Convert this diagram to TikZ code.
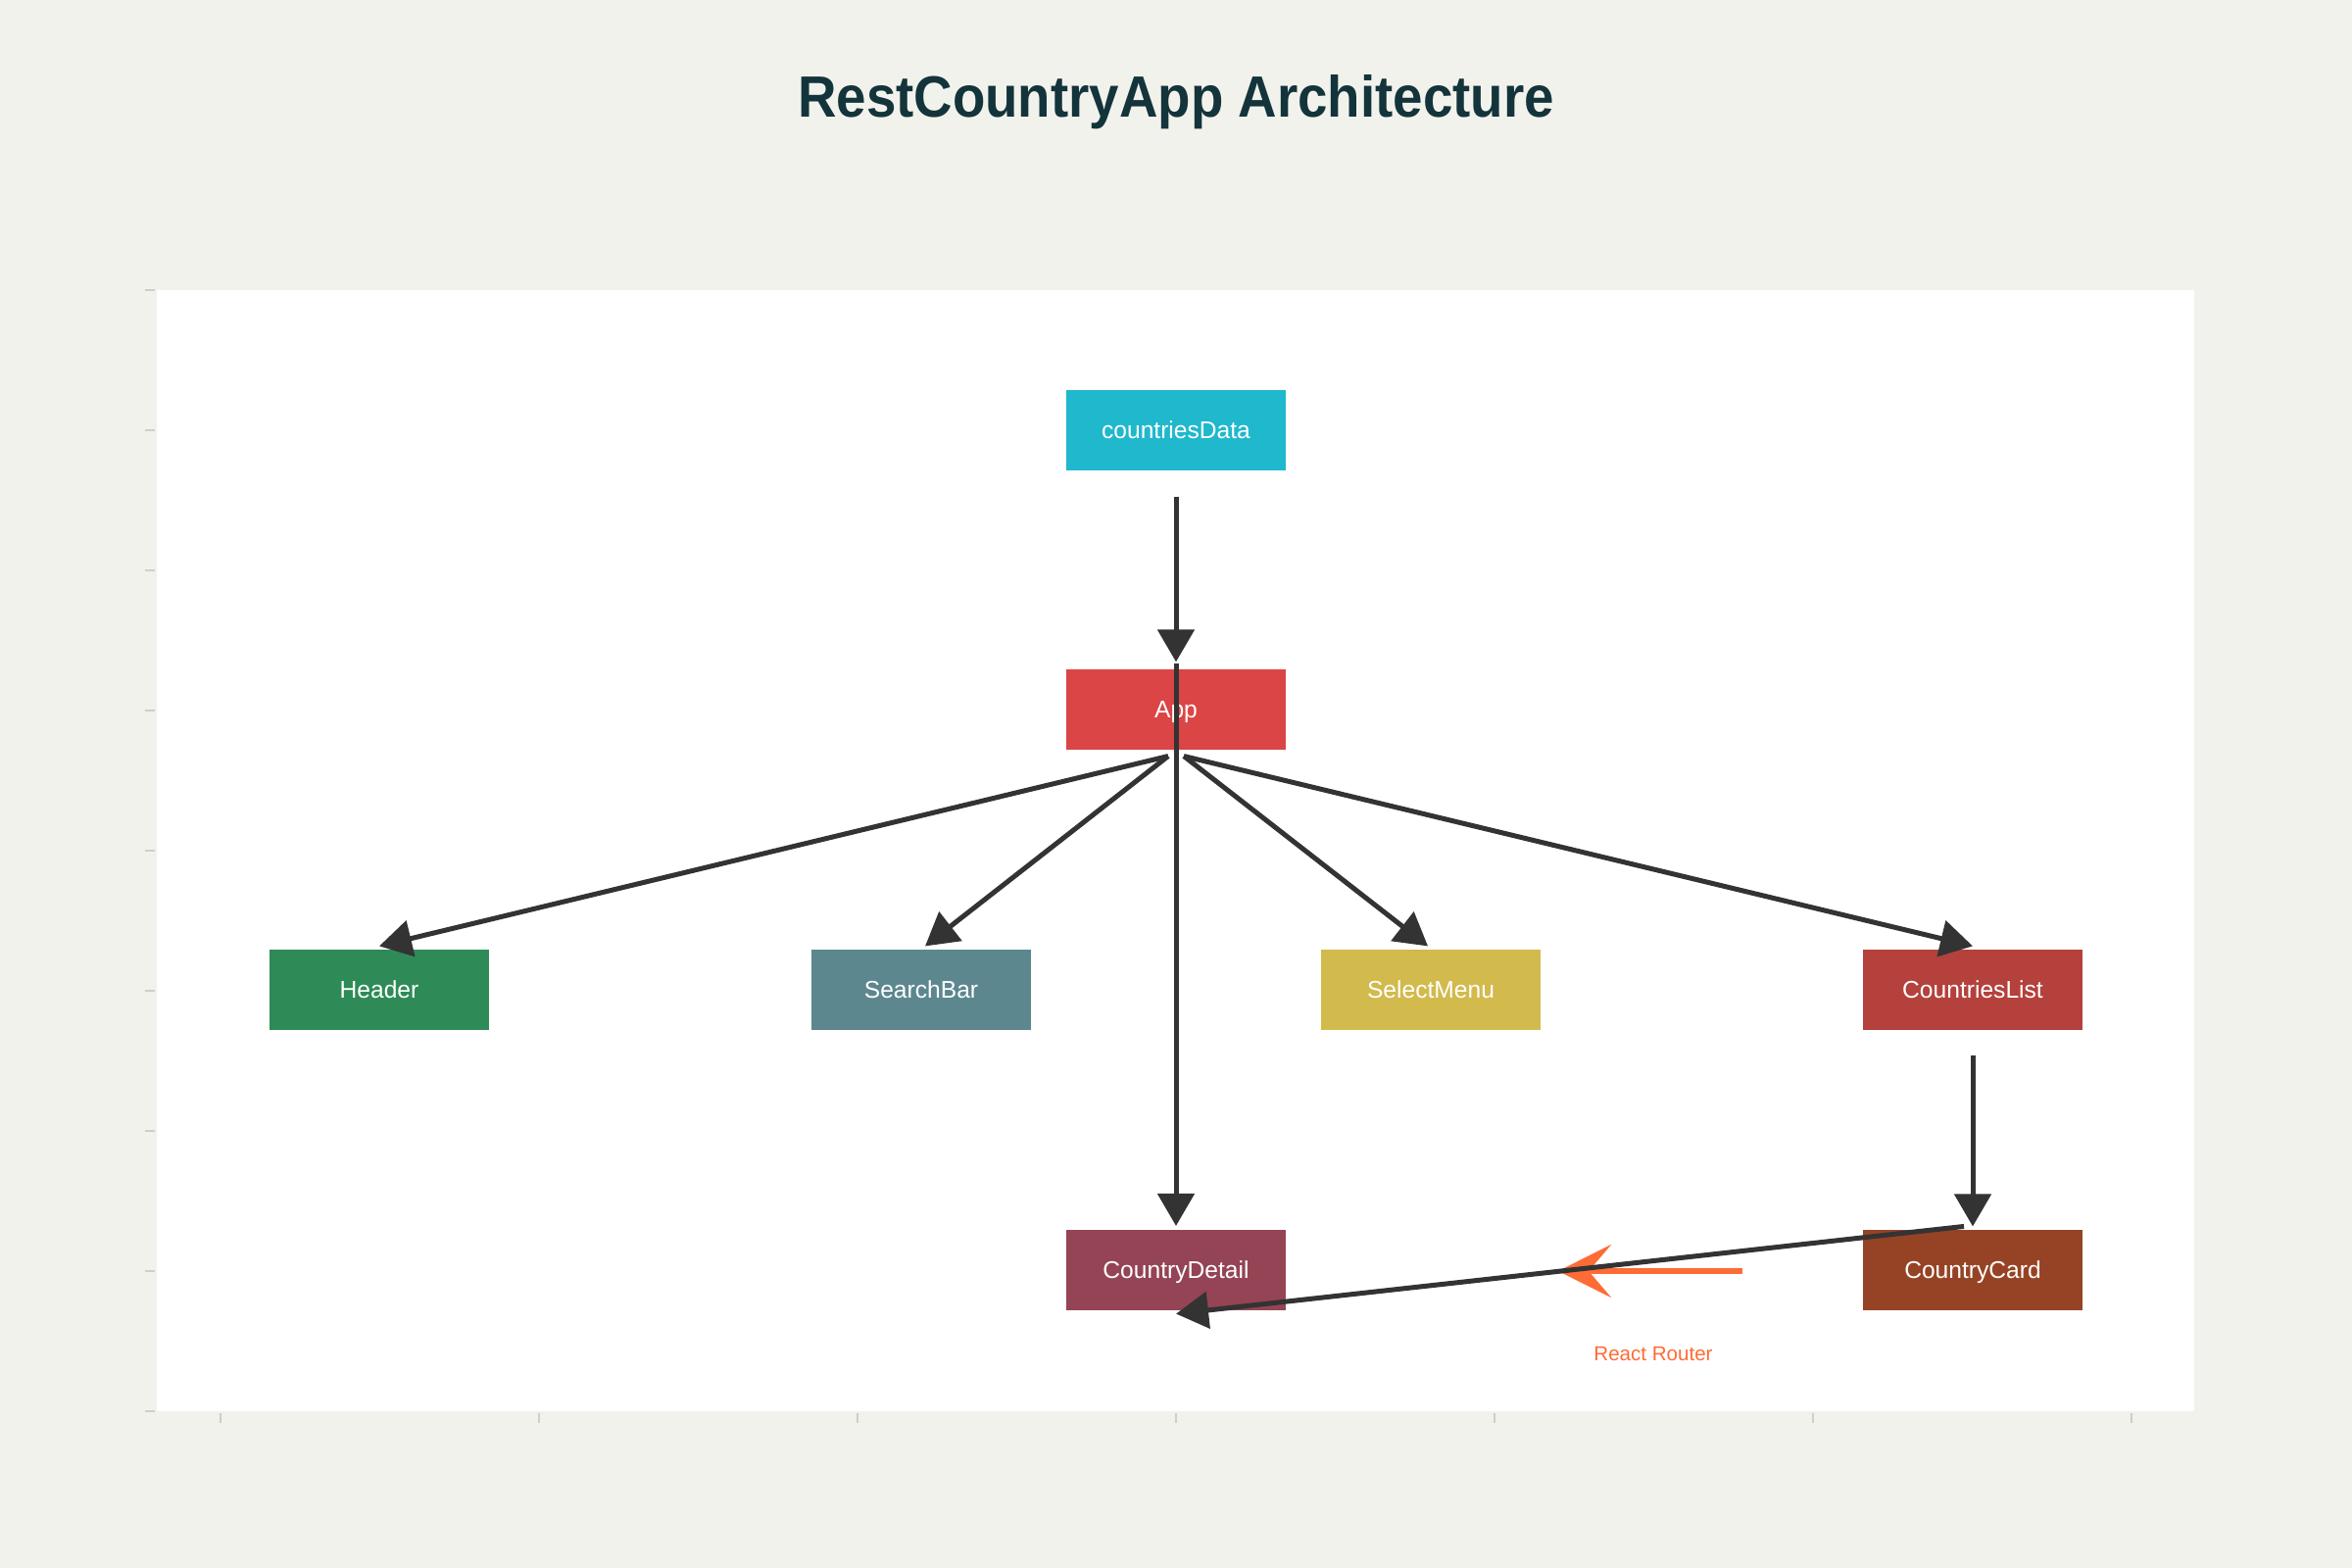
\documentclass[tikz,border=0pt]{standalone}
\usepackage{fontspec}
\setmainfont{Liberation Sans}
\newfontfamily\titlefont[FakeStretch=0.92]{Liberation Sans}
\usetikzlibrary{arrows.meta}
\definecolor{bgc}{HTML}{F2F2EC}
\definecolor{tickc}{HTML}{CFCEC8}
\definecolor{titlec}{HTML}{13343B}
\definecolor{arrc}{HTML}{333333}
\definecolor{orng}{HTML}{FF6B35}
\definecolor{cData}{HTML}{1FB8CD}
\definecolor{cApp}{HTML}{DB4545}
\definecolor{cHeader}{HTML}{2E8B57}
\definecolor{cSearch}{HTML}{5D878F}
\definecolor{cSelect}{HTML}{D2BA4C}
\definecolor{cList}{HTML}{B4413C}
\definecolor{cDetail}{HTML}{944454}
\definecolor{cCard}{HTML}{964325}
\tikzset{
  comp/.style={rectangle, inner sep=0pt, minimum width=2.237cm, minimum height=0.817cm,
    text height=5.1pt, text depth=0pt,
    text=white, font=\fontsize{7pt}{8pt}\selectfont},
  link/.style={draw=arrc, line width=0.05cm, -{Triangle[length=0.33cm, width=0.37cm]}},
  route/.style={draw=orng, line width=0.06cm, -{Stealth[length=0.54cm, width=0.54cm, inset=0.23cm]}},
  tickline/.style={draw=tickc, line width=0.025cm}
}
\begin{document}
\begin{tikzpicture}[x=0.01cm, y=-0.01cm]
\fill[bgc] (0,0) rectangle (2400,1600);
\useasboundingbox (0,0) rectangle (2400,1600);
\fill[white] (160,296) rectangle (2239,1440);
\foreach \k in {0,...,8} \draw[tickline] (148,296+143*\k) -- (158,296+143*\k);
\foreach \k in {0,...,6} \draw[tickline] (225+325*\k,1442) -- (225+325*\k,1452);

\node[font=\titlefont\fontsize{16.9pt}{20pt}\selectfont\bfseries, text=titlec, text height=12.2pt, text depth=0pt] (title) at (1200,98) {RestCountryApp Architecture};

\node[comp, fill=cData] (cd) at (1200,439) {countriesData};
\node[comp, fill=cApp] (app) at (1200,724) {App};
\node[comp, fill=cHeader] (hdr) at (387,1010) {Header};
\node[comp, fill=cSearch] (sb) at (940,1010) {SearchBar};
\node[comp, fill=cSelect] (sm) at (1460,1010) {SelectMenu};
\node[comp, fill=cList] (cl) at (2013,1010) {CountriesList};
\node[comp, fill=cDetail] (cdet) at (1200,1296) {CountryDetail};
\node[comp, fill=cCard] (cc) at (2013,1296) {CountryCard};

\coordinate (rr0) at (1778,1297);
\coordinate (rr1) at (1590,1297);
\draw[route] (rr0) -- (rr1);
\node[text=orng, font=\fontsize{5.85pt}{7pt}\selectfont] (rlabel) at (1687,1382) {React Router};

\draw[link] ([yshift=-0.26cm]cd.south) -- ([yshift=0.07cm]app.north);
\draw[link] ([shift={(-0.08cm,-0.06cm)}]app.south) -- ([yshift=0.03cm]hdr.north);
\draw[link] ([shift={(-0.08cm,-0.06cm)}]app.south) -- ([shift={(0.04cm,0.03cm)}]sb.north);
\draw[link] ([shift={(0.08cm,-0.06cm)}]app.south) -- ([shift={(-0.03cm,0.03cm)}]sm.north);
\draw[link] ([shift={(0.08cm,-0.06cm)}]app.south) -- ([yshift=0.03cm]cl.north);
\draw[link] ([yshift=0.05cm]app.north) -- ([yshift=0.035cm]cdet.north);
\draw[link] ([yshift=-0.25cm]cl.south) -- ([yshift=0.03cm]cc.north);
\draw[link] ([shift={(-0.09cm,0.03cm)}]cc.north) -- ([yshift=-0.03cm]cdet.south);
\end{tikzpicture}
\end{document}
